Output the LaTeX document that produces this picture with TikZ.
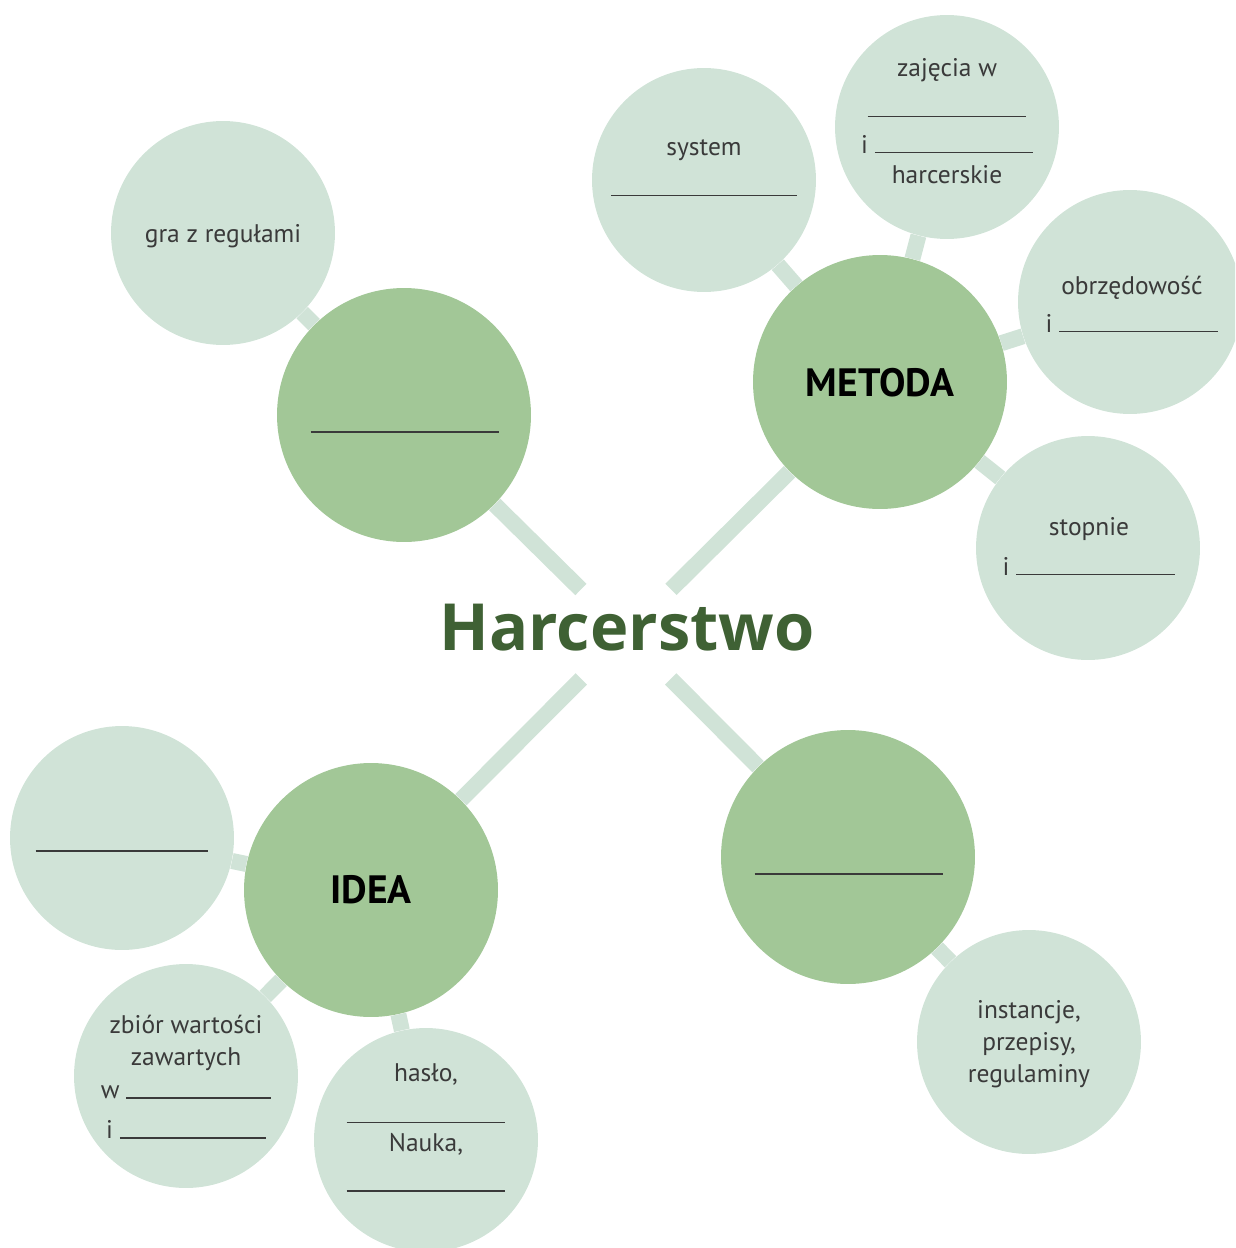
\documentclass[tikz,border=0pt]{standalone}
\usepackage{fontspec}
\setmainfont{PT Sans}
\newfontfamily\titlefont{Open Sans}
\usetikzlibrary{positioning}
\definecolor{dark}{HTML}{A2C797}
\definecolor{light}{HTML}{D0E3D7}
\definecolor{heading}{HTML}{3F6134}
\definecolor{ink}{HTML}{3A3A3A}
\newcommand{\blank}[1]{\rule{#1}{0.8pt}}

\begin{document}
\begin{tikzpicture}[x=0.02cm, y=-0.02cm,
			big/.style = {circle, fill=dark, minimum size=5.08cm, inner sep=0pt},
			small/.style = {circle, fill=light, minimum size=4.48cm, inner sep=0pt},
			link/.style = {draw=light, line width=0.32cm},
			txt/.style = {text=ink, align=center, inner sep=0pt,
				font=\fontsize{14.5}{18.2}\selectfont},
			head/.style = {text=black, inner sep=0pt,
				font=\fontsize{22.5}{26}\selectfont\bfseries}]
			\useasboundingbox (0,0) rectangle (1235,1248);
			\clip (0,0) rectangle (1235,1248);
			% centre
			\node (hub) [circle, minimum size=2.52cm, inner sep=0pt] at (626,634) {};
			\node (title) [text=heading, font=\titlefont\fontsize{37}{42}\selectfont\bfseries]
			at (627,628) {Harcerstwo};
			% big circles
			\node (b1) [big] at (404,415) {};
			\node (b2) [big] at (880,382) {};
			\node (b3) [big] at (371,890) {};
			\node (b4) [big] at (848,857) {};
			% small circles
			\node (s1) [small] at (223,233) {};
			\node (s2) [small] at (704,180) {};
			\node (s3) [small] at (947,127) {};
			\node (s4) [small] at (1130,302) {};
			\node (s5) [small] at (1088,548) {};
			\node (s6) [small] at (122,838) {};
			\node (s7) [small] at (186,1076) {};
			\node (s8) [small] at (426,1140) {};
			\node (s9) [small] at (1029,1042) {};
			\path [link]
			(hub) edge (b1) (hub) edge (b2) (hub) edge (b3) (hub) edge (b4)
			(b1) edge (s1)
			(b2) edge (s2) (b2) edge (s3) (b2) edge (s4) (b2) edge (s5)
			(b3) edge (s6) (b3) edge (s7) (b3) edge (s8)
			(b4) edge (s9);
			% texts
			\node (t-b1) [txt] at (405,432) {\blank{3.78cm}};
			\node (t-b2) [head] at (880,383) {METODA};
			\node (t-b3) [head] at (371,890) {IDEA};
			\node (t-b4) [txt] at (849,874) {\blank{3.78cm}};
			\node (t-s1) [txt] at (223,236) {gra z regułami};
			\node (t-s2) [txt] at (704,168) {system\\[0.16cm]\blank{3.72cm}};
			\node (t-s3) [txt] at (947,121) {zajęcia w\\[0.18cm]\blank{3.18cm}\\[0.08cm]
				i \blank{3.16cm}\\[-0.04cm]harcerskie};
			\node (t-s4) [txt] at (1132,304) {obrzędowość\\[0.12cm]i \blank{3.18cm}};
			\node (t-s5) [txt] at (1089,546) {stopnie\\[0.16cm]i \blank{3.18cm}};
			\node (t-s6) [txt] at (122,851) {\blank{3.46cm}};
			\node (t-s7) [txt] at (186,1077) {zbiór wartości\\zawartych\\[0.02cm]
				w \blank{2.9cm}\\[0.16cm]i \blank{2.92cm}};
			\node (t-s8) [txt] at (426,1128) {hasło,\\[0.18cm]\blank{3.18cm}\\[-0.06cm]
				Nauka,\\[0.16cm]\blank{3.18cm}};
			\node (t-s9) [txt] at (1029,1044) {instancje,\\przepisy,\\regulaminy};
		\end{tikzpicture}
\end{document}
